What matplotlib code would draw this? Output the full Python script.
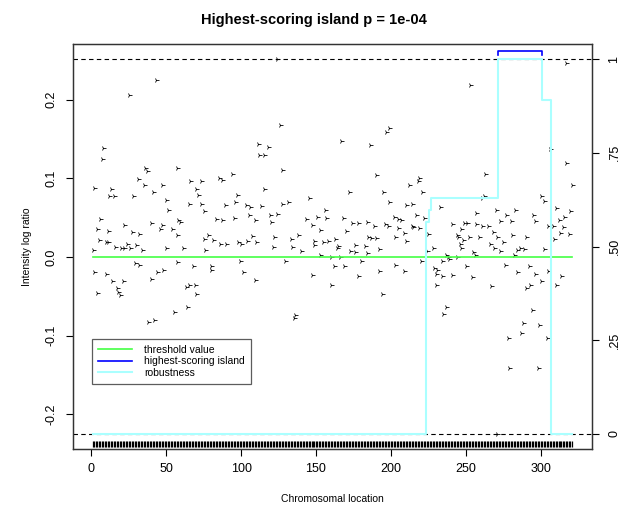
import matplotlib
matplotlib.use('Agg')
import matplotlib.pyplot as plt
import numpy as np

plt.rcParams['font.family'] = ['Liberation Sans', 'DejaVu Sans']

# probe readings: chromosomal location and intensity log ratio
location = [1, 2, 2, 4, 4, 5, 6, 7, 8, 10, 10, 11, 11, 12, 13, 14, 15, 16, 17, 18,
            19, 20, 21, 22, 22, 24, 25, 26, 27, 28, 29, 30, 31, 32, 32, 34, 35, 36, 37, 38,
            40, 40, 41, 42, 43, 44, 46, 47, 47, 48, 50, 50,
            51, 54, 55, 57, 57, 57, 58, 59, 61, 63, 64, 65, 65, 66, 68, 69, 70, 70,
            71, 73, 73, 75, 75, 76, 78, 80, 80, 81, 83, 85, 86, 87, 87, 89, 90, 94, 95, 96,
            97, 98, 99, 100, 101,
            103, 104, 105, 106, 107, 109, 109, 110, 111, 112, 113, 115, 115, 118, 119, 120,
            121, 122, 124, 124, 126, 127, 127, 129, 131, 133, 134, 135, 136, 138, 140, 143,
            145, 147, 147, 149, 149, 151, 153, 153, 155, 156,
            157, 158, 160, 160, 162, 163, 164, 165, 166, 167, 168, 169, 170, 172, 173, 174,
            176, 176, 178, 178, 180, 183, 184, 184, 185, 186, 187, 189, 190, 190, 192, 192,
            194, 195, 196, 197, 198, 199, 199, 202, 203, 203, 205, 205, 207, 209, 209, 210,
            210, 212, 214, 214, 215, 217, 218, 219, 219, 220, 221, 222, 224, 225, 228, 229,
            230, 230, 231, 233, 234, 234, 235, 237, 237, 238, 239, 241, 241, 244, 244, 245,
            246, 247, 247, 248, 249, 250, 251, 252, 253, 254, 255, 256, 257, 257, 259, 261,
            261, 262, 263,
            265, 266, 267, 268, 269, 270, 271, 271, 273, 273, 275, 276, 277, 278, 279, 280,
            281, 282, 283, 284, 284, 286, 287, 288, 289, 290, 290, 292, 293, 294, 295, 296,
            296, 298, 299, 300, 300, 302, 302, 304, 305, 305, 306, 308, 309, 310, 310, 312,
            313, 314, 315, 316, 317, 317, 319, 320, 321]
log_ratio = [0.009, 0.088, -0.019, -0.046, 0.036, 0.021, 0.048, 0.124, 0.139, 0.019,
             -0.021, 0.033, 0.019, 0.078, 0.087, -0.031, 0.077, 0.013, -0.040, -0.044,
             -0.048, 0.011, -0.031, 0.012, 0.041, 0.017, 0.206, 0.012, 0.032, 0.078,
             -0.007, 0.015, 0.099, -0.010, 0.029, 0.009, 0.091, 0.113, 0.109, -0.082,
             -0.028, 0.043, 0.083, -0.080, 0.225, -0.019, 0.036, 0.041, 0.091, -0.017,
             0.011, 0.072,
             0.060, 0.036, -0.070, 0.113, 0.028, -0.006, 0.047, 0.044, 0.012, -0.038,
             -0.064, 0.068, -0.035, 0.097, -0.011, -0.036, 0.087, -0.047,
             0.079, 0.096, 0.067, 0.058, 0.023, 0.009, 0.028, -0.017, -0.011, 0.022,
             0.048, 0.101, 0.016, 0.098, 0.047, 0.066, 0.017, 0.106, 0.050, 0.070,
             0.079, 0.019, -0.005, 0.017, -0.019,
             0.066, 0.020, 0.053, 0.064, 0.027, 0.047, -0.029, 0.019, 0.143, 0.130,
             0.065, 0.087, 0.130, 0.140, 0.054, 0.045,
             0.013, 0.026, 0.252, 0.055, 0.168, 0.111, 0.068, -0.005, 0.070, 0.023,
             0.013, -0.078, -0.074, 0.028, 0.007, 0.048,
             0.075, 0.041, -0.023, 0.015, 0.020, 0.051, 0.034, 0.003, 0.019, 0.060,
             0.050, 0.020, -0.036, 0.000, -0.012, 0.023, 0.012, 0.014, 0.000, 0.147,
             0.049, -0.011, 0.033, 0.083, 0.008, 0.043,
             0.015, 0.006, 0.043, -0.024, -0.005, 0.014, 0.044, 0.005, 0.025, 0.142,
             0.024, 0.039, 0.104, 0.024, 0.010, -0.018,
             -0.047, 0.083, 0.042, 0.159, 0.040, 0.164, 0.070, 0.051, 0.025, -0.010,
             0.048, 0.037, 0.047, 0.030, -0.018, 0.066,
             0.020, 0.091, 0.067, 0.039, 0.038, 0.053, 0.097, 0.101, 0.037, -0.005,
             0.082, 0.050, 0.007, 0.029, 0.012, -0.014,
             -0.035, -0.021, -0.017, 0.063, -0.005, -0.024, -0.072, 0.003, -0.064, 0.000,
             -0.002, 0.042, -0.023, 0.028, 0.000, 0.025,
             0.017, 0.036, 0.012, 0.022, 0.043, -0.012, 0.043, 0.025, 0.219, -0.026,
             0.006, 0.002, 0.056, 0.042, 0.025, 0.075,
             0.040, 0.078, 0.106,
             0.040, 0.016, -0.037, 0.032, 0.012, 0.060, 0.025, -0.225, 0.046, 0.007,
             0.019, -0.010, 0.054, -0.103, -0.141, 0.046,
             0.028, 0.003, 0.060, 0.009, -0.019, 0.011, -0.097, -0.084, 0.010, 0.025,
             -0.039, -0.011, -0.035, -0.067, 0.054, 0.046,
             -0.022, -0.141, -0.086, 0.077, -0.031, 0.071, 0.010, -0.103, 0.039, -0.018,
             0.137, 0.039, 0.023, 0.062, -0.035, 0.047,
             0.031, -0.024, 0.038, 0.051, 0.120, 0.246, 0.029, 0.058, 0.091]

n_probes = 321
threshold = 0.0

# robustness step function (right axis)
rob_x = [1, 223.7, 225.3, 227.1, 271.5, 300.9, 306.7, 321.3]
rob_y = [0, 0.566, 0.598, 0.63, 1.0, 0.891, 0, 0]

# highest-scoring island
island_start, island_end = 271.5, 300.9
island_level = 1.021

fig = plt.figure(figsize=(6.27, 5.07), dpi=100)
ax = fig.add_axes([0.116, 0.1144, 0.828, 0.7988])

ax.plot(location, log_ratio, ls='none', marker='4', ms=3.6, mew=0.6, color='black')

probes = np.arange(1, n_probes + 1)
ax.plot(probes, [0.013] * n_probes, transform=ax.get_xaxis_transform(),
        ls='none', marker='|', ms=4.5, mew=0.9, color='black', clip_on=False)

l_thr, = ax.plot([probes[0], probes[-1]], [threshold, threshold], color='#44ff44', lw=1.2)

ax.set_xlim(-12.5, 334.3)
ax.set_ylim(-0.244, 0.2707)
ax.set_xticks([0, 50, 100, 150, 200, 250, 300])
ax.set_yticks([-0.2, -0.1, 0.0, 0.1, 0.2])
ax.set_yticklabels(['-0.2', '-0.1', '0.0', '0.1', '0.2'], rotation=90, va='center')
ax.tick_params(direction='out', length=5, width=0.8, labelsize=9, colors='black')
ax.tick_params(axis='x', pad=5)
ax.tick_params(axis='y', pad=6)

ax2 = ax.twinx()
ax2.set_ylim(-0.04, 1.04)
ax2.axhline(0, color='black', ls=(0, (4, 3)), lw=0.8)
ax2.axhline(1, color='black', ls=(0, (4, 3)), lw=0.8)
l_rob, = ax2.step(rob_x, rob_y, where='post', color='#aaffff', lw=1.5)
l_isl, = ax2.plot([island_start, island_start, island_end, island_end],
                  [island_level - 0.009, island_level, island_level, island_level - 0.009],
                  color='blue', lw=1.2)
ax2.set_yticks([0, 0.25, 0.5, 0.75, 1])
ax2.set_yticklabels(['0', '.25', '.50', '.75', '1'], rotation=90, va='center')
ax2.tick_params(direction='out', length=5, width=0.8, labelsize=9, pad=7)

for a in (ax, ax2):
    for s in a.spines.values():
        s.set_linewidth(0.9)
        s.set_color('#333333')

ax.set_xlabel('Chromosomal location', fontsize=7.5, labelpad=14)
ax.set_ylabel('Intensity log ratio', fontsize=7.5, labelpad=10)
fig.suptitle('Highest-scoring island p = 1e-04', fontsize=10.5, fontweight='bold', y=0.975)

leg = ax2.legend([l_thr, l_isl, l_rob],
                 ['threshold value', 'highest-scoring island', 'robustness'],
                 loc='lower left', bbox_to_anchor=(0.037, 0.16), fontsize=7.5,
                 frameon=True, fancybox=False, edgecolor='#333333', handlelength=3.2,
                 borderpad=0.6, labelspacing=0.15, handletextpad=1.2, borderaxespad=0)
leg.get_frame().set_linewidth(0.9)

fig.savefig('out.png', dpi=100)
